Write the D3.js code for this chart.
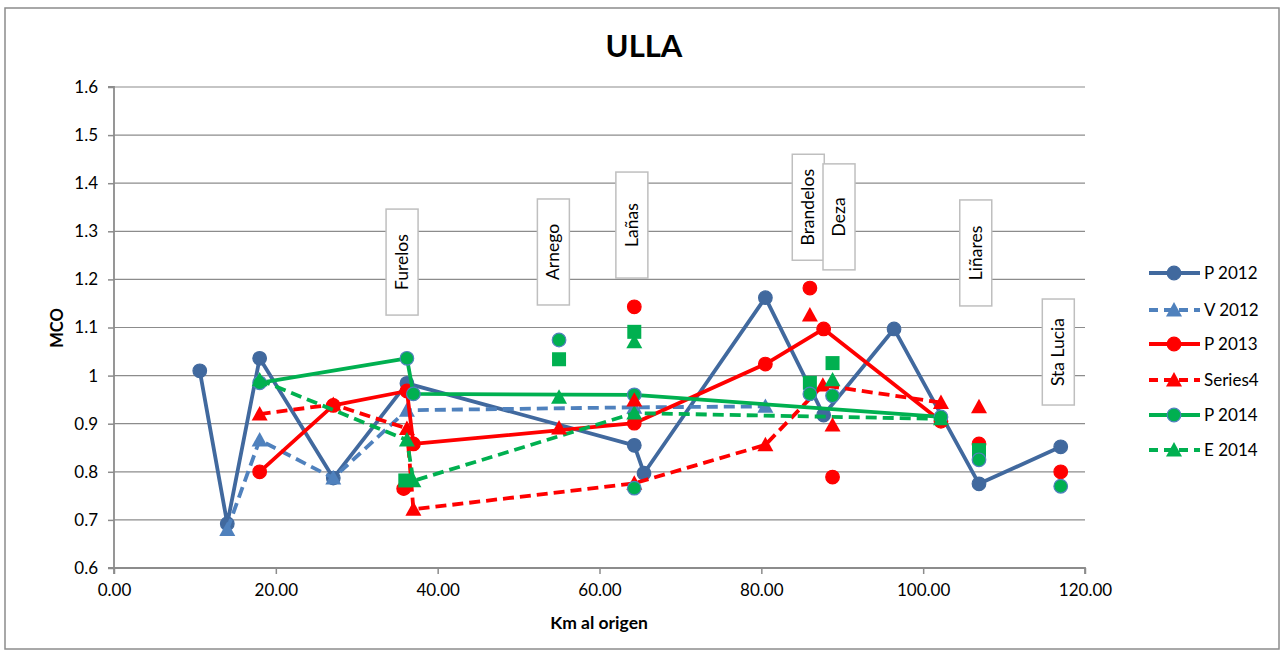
<!DOCTYPE html>
<html><head><meta charset="utf-8">
<script src="https://cdn.jsdelivr.net/npm/d3@7"></script>
<style>body{margin:0;background:#fff;} svg{display:block;font-family:Lato,"Liberation Sans",sans-serif;}</style>
</head><body>
<svg id="c" width="1284" height="652"></svg>
<script>
// ---- data ----
const xTicks = [0,20,40,60,80,100,120];
const yTicks = [0.6,0.7,0.8,0.9,1.0,1.1,1.2,1.3,1.4,1.5,1.6];

const p2012X = [10.6,14.0,18.0,27.1,36.2,64.3,65.5,80.5,87.7,96.4,106.9,117.0];
const p2012Y = [1.010,0.692,1.036,0.787,0.984,0.855,0.797,1.162,0.918,1.097,0.775,0.852];
const v2012X = [14.0,18.0,27.1,36.2,64.3,80.5];
const v2012Y = [0.680,0.866,0.787,0.928,0.934,0.936];
const p2013X = [18.0,27.1,36.2,37.0,64.3,80.5,87.7,102.2];
const p2013Y = [0.800,0.938,0.968,0.858,0.901,1.024,1.097,0.905];
const s4X = [18.0,27.1,36.2,37.0,64.3,80.5,87.6,102.2];
const s4Y = [0.920,0.940,0.890,0.722,0.776,0.856,0.980,0.944];
const p2014X = [18.0,36.2,37.0,64.3,102.2];
const p2014Y = [0.985,1.036,0.962,0.960,0.914];
const e2014X = [18.0,36.2,37.0,64.3,102.2];
const e2014Y = [0.991,0.866,0.781,0.922,0.910];

// tributary (unconnected) points
const tRedCircleX = [35.8,64.3,86.0,88.8,106.9,117.0];
const tRedCircleY = [0.765,1.143,1.182,0.789,0.858,0.800];
const tRedTriX = [55.0,64.3,86.0,88.8,106.9];
const tRedTriY = [0.891,0.949,1.126,0.897,0.935];
const tGreenSquareX = [36.0,55.0,64.3,86.0,88.8,106.9];
const tGreenSquareY = [0.782,1.034,1.091,0.985,1.026,0.845];
const tGreenTriX = [55.0,64.3,88.8];
const tGreenTriY = [0.955,1.070,0.991];
const tGreenCircleX = [55.0,64.3,86.0,88.8,106.9,117.0];
const tGreenCircleY = [1.074,0.766,0.962,0.958,0.825,0.770];

const placeNames = ["Furelos","Arnego","Lañas","Brandelos","Deza","Liñares","Sta Lucia"];
const placeX = [35.6,54.3,64.0,85.8,89.6,106.5,116.7];
const placeY = [1.236,1.257,1.313,1.350,1.330,1.255,1.049];

const seriesNames = ["P 2012","V 2012","P 2013","Series4","P 2014","E 2014"];

// ---- styles ----
const C_DB = "#41699E", C_LB = "#4F81BD", C_R = "#FF0000", C_G = "#00B050";
const series = [
  {name:seriesNames[0], X:p2012X, Y:p2012Y, color:C_DB, dash:null, shape:"circle"},
  {name:seriesNames[1], X:v2012X, Y:v2012Y, color:C_LB, dash:"11,6", shape:"triangle"},
  {name:seriesNames[2], X:p2013X, Y:p2013Y, color:C_R, dash:null, shape:"circle"},
  {name:seriesNames[3], X:s4X, Y:s4Y, color:C_R, dash:"11,6", shape:"triangle"},
  {name:seriesNames[4], X:p2014X, Y:p2014Y, color:C_G, dash:null, shape:"circle", stroke:C_LB},
  {name:seriesNames[5], X:e2014X, Y:e2014Y, color:C_G, dash:"11,6", shape:"triangle"}
];

const svg = d3.select("#c");
const x = d3.scaleLinear().domain([0,120]).range([114,1085]);
const y = d3.scaleLinear().domain([0.6,1.6]).range([568,87]);

// chart border
svg.append("rect").attr("x",5).attr("y",8).attr("width",1274).attr("height",641)
  .attr("fill","#fff").attr("stroke","#8c8c8c").attr("stroke-width",1.5);

// gridlines
svg.append("g").selectAll("line").data(yTicks.slice(1)).join("line")
  .attr("x1",114).attr("x2",1085).attr("y1",d=>y(d)).attr("y2",d=>y(d))
  .attr("stroke","#8c8c8c").attr("stroke-width",1.2);

// axes
const yAxis = d3.axisLeft(y).tickValues(yTicks).tickSize(6).tickPadding(10)
  .tickFormat(d=>String(+d.toFixed(1)));
const gy = svg.append("g").attr("transform","translate(114,0)").call(yAxis);
const xAxis = d3.axisBottom(x).tickValues(xTicks).tickSize(6).tickPadding(10)
  .tickFormat(d3.format(".2f"));
const gx = svg.append("g").attr("transform","translate(0,568)").call(xAxis);
[gx,gy].forEach(g=>{
  g.select(".domain").attr("stroke","#8c8c8c").attr("stroke-width",1.8);
  g.selectAll(".tick line").attr("stroke","#8c8c8c").attr("stroke-width",1.5);
  g.selectAll("text").attr("font-size",17).attr("fill","#000").attr("font-family","Lato");
});
gy.select(".domain").attr("d","M-6,568H0V87H-6");
gx.select(".domain").attr("d","M114,6V0H1085V6");

// titles
svg.append("text").attr("x",644).attr("y",57).attr("text-anchor","middle")
  .attr("font-size",31).attr("font-weight","bold").text("ULLA");
svg.append("text").attr("x",599).attr("y",629).attr("text-anchor","middle")
  .attr("font-size",17.5).attr("font-weight","bold").text("Km al origen");
svg.append("text").attr("transform","translate(63,328) rotate(-90)").attr("text-anchor","middle")
  .attr("font-size",16.5).attr("font-weight","bold").text("MCO");

// place labels
const gl = svg.append("g");
placeNames.forEach((n,i)=>{
  const cx = x(placeX[i]), cy = y(placeY[i]);
  const g = gl.append("g");
  const t = g.append("text").attr("transform",`translate(${cx+6},${cy}) rotate(-90)`)
    .attr("text-anchor","middle").attr("font-size",17.5).text(n);
  const w = t.node().getComputedTextLength();
  const h = Math.max(106, w+22);
  g.insert("rect","text").attr("x",cx-16).attr("y",cy-h/2).attr("width",32).attr("height",h)
    .attr("fill","#fff").attr("stroke","#bfbfbf").attr("stroke-width",1.5);
});

// markers
function marker(g, shape, px, py, color, stroke, s) {
  s = s || 1;
  if (shape==="circle") {
    g.append("circle").attr("cx",px).attr("cy",py).attr("r",6.8*s).attr("fill",color)
      .attr("stroke",stroke||color).attr("stroke-width",1.2);
  } else if (shape==="triangle") {
    const a=8*s;
    g.append("path").attr("d",`M${px},${py-a}L${px+a},${py+a*0.8}L${px-a},${py+a*0.8}Z`).attr("fill",color);
  } else if (shape==="square") {
    const a=7*s;
    g.append("rect").attr("x",px-a).attr("y",py-a).attr("width",2*a).attr("height",2*a).attr("fill",color);
  }
}

const line = d3.line().x(d=>x(d[0])).y(d=>y(d[1]));
const gs = svg.append("g");
series.forEach(s=>{
  const pts = s.X.map((v,i)=>[v,s.Y[i]]);
  gs.append("path").attr("d",line(pts)).attr("fill","none").attr("stroke",s.color)
    .attr("stroke-width",3.8).attr("stroke-linejoin","round")
    .attr("stroke-dasharray",s.dash);
  pts.forEach(p=>marker(gs,s.shape,x(p[0]),y(p[1]),s.color,s.stroke));
});

// tributary points
const trib = [
  {X:tRedCircleX, Y:tRedCircleY, shape:"circle", color:C_R},
  {X:tRedTriX, Y:tRedTriY, shape:"triangle", color:C_R},
  {X:tGreenSquareX, Y:tGreenSquareY, shape:"square", color:C_G},
  {X:tGreenTriX, Y:tGreenTriY, shape:"triangle", color:C_G},
  {X:tGreenCircleX, Y:tGreenCircleY, shape:"circle", color:C_G, stroke:C_LB}
];
trib.forEach(t=>t.X.forEach((v,i)=>marker(gs,t.shape,x(v),y(t.Y[i]),t.color,t.stroke)));

// legend
const legY = [273,310,344,380,415,450];
const lg = svg.append("g");
series.forEach((s,i)=>{
  const ly = legY[i];
  lg.append("line").attr("x1",1149).attr("x2",1200).attr("y1",ly).attr("y2",ly)
    .attr("stroke",s.color).attr("stroke-width",3.8).attr("stroke-dasharray",s.dash?"9,6":null);
  marker(lg,s.shape,1174,ly,s.color,s.stroke);
  lg.append("text").attr("x",1204).attr("y",ly+6).attr("font-size",17).text(s.name);
});
</script>
</body></html>
